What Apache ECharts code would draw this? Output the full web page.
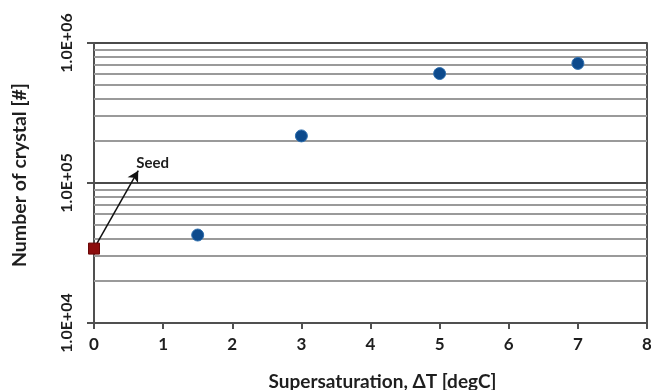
<!DOCTYPE html>
<html>
<head>
<meta charset="utf-8">
<script src="https://cdn.jsdelivr.net/npm/echarts@6/dist/echarts.min.js"></script>
<style>
  html, body { margin: 0; padding: 0; background: #fff; }
  #chart { width: 651px; height: 390px; }
</style>
</head>
<body>
<div id="chart"></div>
<script>
// Crystal count versus supersaturation (log scale)
const seedX = [0];
const seedCount = [34000];
const superX = [1.5, 3, 5, 7];
const crystalCount = [42500, 217000, 605000, 715000];
const xTicks = [0, 1, 2, 3, 4, 5, 6, 7, 8];
const yDecades = [1e4, 1e5, 1e6];
const seedArrowTip = [0.64, 122500];

const FONT = 'Lato';
const AXIS_COLOR = '#505050';
const TEXT_COLOR = '#1e1e1e';

// Minor grid values 2..9 within each decade of the log axis
const minorGrid = [];
for (let d = 0; d < yDecades.length - 1; d++) {
  for (let m = 2; m <= 9; m++) minorGrid.push(yDecades[d] * m);
}

function sci(v) {
  const e = Math.round(Math.log10(v));
  const mant = (v / Math.pow(10, e)).toFixed(1);
  return mant + 'E+' + String(e).padStart(2, '0');
}

const chart = echarts.init(document.getElementById('chart'));
chart.setOption({
  animation: false,
  backgroundColor: '#fff',
  grid: { left: 94, right: 4, top: 43, bottom: 67, outerBoundsMode: 'none', containLabel: false },
  xAxis: {
    type: 'value',
    min: xTicks[0],
    max: xTicks[xTicks.length - 1],
    interval: 1,
    name: 'Supersaturation, ΔT [degC]',
    nameLocation: 'middle',
    nameGap: 49,
    nameTextStyle: { fontFamily: FONT, fontWeight: 'bold', fontSize: 19, color: TEXT_COLOR, padding: [0, 0, 0, 24] },
    axisLine: { show: true, lineStyle: { color: AXIS_COLOR, width: 2 } },
    axisTick: { show: true, length: 6, inside: false, lineStyle: { color: AXIS_COLOR, width: 2 } },
    axisLabel: { fontFamily: FONT, fontWeight: 'bold', fontSize: 17, color: TEXT_COLOR, margin: 13 },
    splitLine: { show: false }
  },
  yAxis: [{
    type: 'log',
    logBase: 10,
    min: yDecades[0],
    max: yDecades[yDecades.length - 1],
    name: 'Number of crystal [#]',
    nameLocation: 'middle',
    nameGap: 64,
    nameTextStyle: { fontFamily: FONT, fontWeight: 'bold', fontSize: 19.5, color: TEXT_COLOR, padding: [0, 0, 0, 16] },
    axisLine: { show: true, lineStyle: { color: AXIS_COLOR, width: 2 } },
    axisTick: { show: true, length: 7, lineStyle: { color: AXIS_COLOR, width: 2 } },
    axisLabel: { fontFamily: FONT, fontWeight: 'bold', fontSize: 16, color: TEXT_COLOR, rotate: 90, margin: 19, formatter: sci },
    splitLine: { show: true, lineStyle: { color: '#4a4a4a', width: 2 } },
    minorTick: { show: false },
    minorSplitLine: { show: false }
  }, {
    // right frame line
    type: 'log', logBase: 10, position: 'right',
    min: yDecades[0], max: yDecades[yDecades.length - 1],
    axisLine: { show: true, lineStyle: { color: AXIS_COLOR, width: 2 } },
    axisTick: { show: false }, axisLabel: { show: false }, splitLine: { show: false }
  }],
  series: [
    {
      name: 'minor-grid',
      type: 'line',
      data: [],
      silent: true,
      markLine: {
        silent: true,
        symbol: ['none', 'none'],
        label: { show: false },
        lineStyle: { color: '#9a9a9a', width: 2, type: 'solid' },
        data: minorGrid.map(v => ({ yAxis: v }))
      }
    },
    {
      name: 'Seed',
      type: 'scatter',
      symbol: 'rect',
      symbolSize: 11,
      itemStyle: { color: '#8c0d0d', borderColor: '#6a0606', borderWidth: 1, opacity: 1 },
      data: seedX.map((x, i) => [x, seedCount[i]]),
      z: 5,
      markLine: {
        silent: true,
        symbol: ['none', 'arrow'],
        symbolSize: [9, 11],
        lineStyle: { color: '#111', width: 1.5, type: 'solid' },
        label: {
          show: true, position: 'end', formatter: 'Seed',
          fontFamily: FONT, fontWeight: 'bold', fontSize: 15, color: TEXT_COLOR,
          offset: [12, 4]
        },
        data: [[
          { coord: [seedX[0], seedCount[0]] },
          { coord: seedArrowTip }
        ]]
      }
    },
    {
      name: 'Crystals',
      type: 'scatter',
      symbol: 'circle',
      symbolSize: 12,
      itemStyle: { color: '#0d4a8c', borderColor: '#2f6fae', borderWidth: 1, opacity: 1 },
      data: superX.map((x, i) => [x, crystalCount[i]]),
      z: 5
    }
  ]
});
</script>
</body>
</html>
